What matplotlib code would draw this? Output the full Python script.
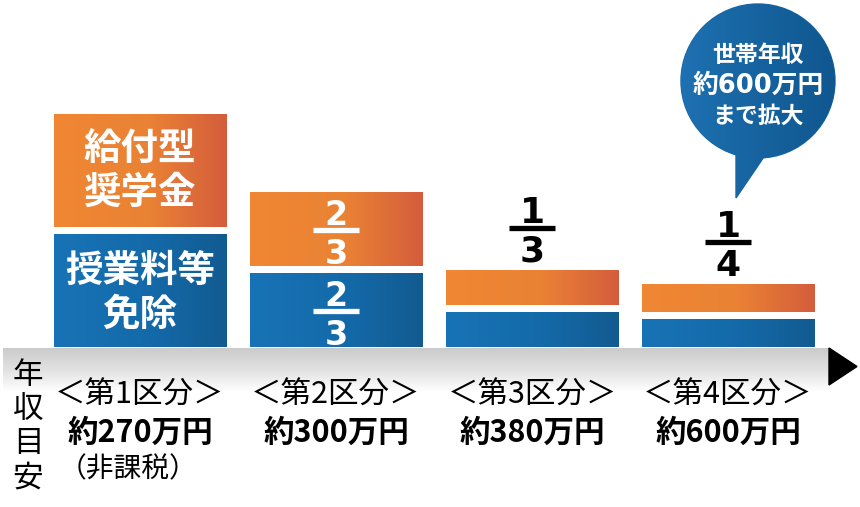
import numpy as np
import matplotlib
matplotlib.use("Agg")
import matplotlib.pyplot as plt
from matplotlib.colors import LinearSegmentedColormap
from matplotlib.patches import Circle, Polygon

plt.rcParams["font.family"] = ["Noto Sans CJK JP", "DejaVu Sans"]

# -------------------------
# data
# -------------------------
kubun = ["＜第1区分＞", "＜第2区分＞", "＜第3区分＞", "＜第4区分＞"]
nenshu = ["約270万円", "約300万円", "約380万円", "約600万円"]
biko = ["（非課税）", "", "", ""]
menjo = [113, 74, 35, 28]        # 授業料等免除 (bar height, px scale)
kyufu = [113, 74, 35, 28]        # 給付型奨学金
frac_num = ["", "2", "1", "1"]
frac_den = ["", "3", "3", "4"]
bubble_lines = ["世帯年収", "約600万円", "まで拡大"]

W, H = 860, 507
GAP = 7

fig = plt.figure(figsize=(W / 100, H / 100), dpi=100)

# background axes in pixel coordinates
ax = fig.add_axes([0, 0, 1, 1])
ax.set_xlim(0, W)
ax.set_ylim(H, 0)
ax.axis("off")

# bar axes: 1 unit = 1 px vertically, baseline at y=347 px
bx = fig.add_axes([42 / W, (H - 347) / H, 784 / W, 250 / H])
bx.axis("off")

grad = np.linspace(0, 1, 256).reshape(1, -1)
cm_orange = LinearSegmentedColormap.from_list("o", [(0, "#ef8733"), (0.55, "#ea8235"), (1, "#d45d3c")])
cm_blue = LinearSegmentedColormap.from_list("b", [(0, "#1873b6"), (0.55, "#146aa9"), (1, "#125b91")])
cm_gray = LinearSegmentedColormap.from_list("g", ["#cbcbcb", "#e2e2e2", "#ffffff"])

x = np.arange(len(kubun))
width = 0.878

def grad_bars(bars, cmap):
    for b in bars:
        x0, y0 = b.get_x(), b.get_y()
        im = bx.imshow(grad, cmap=cmap, aspect="auto", zorder=2,
                       extent=[x0, x0 + b.get_width(), y0, y0 + b.get_height()])
        im.set_clip_path(b)

blue_bars = bx.bar(x, menjo, width=width, color="#1570b2", zorder=1)
orange_bars = bx.bar(x, kyufu, width=width, bottom=np.array(menjo) + GAP, color="#ec8434", zorder=1)
grad_bars(blue_bars, cm_blue)
grad_bars(orange_bars, cm_orange)
bx.set_xlim(-0.5, len(kubun) - 0.5)
bx.set_ylim(0, 250)

# labels in bar 1
bx.text(x[0], menjo[0] + GAP + kyufu[0] / 2, "給付型\n奨学金", color="white", fontsize=27,
        fontweight="bold", ha="center", va="center", linespacing=1.15, zorder=5)
bx.text(x[0], menjo[0] / 2 - 2, "授業料等\n免除", color="white", fontsize=27,
        fontweight="bold", ha="center", va="center", linespacing=1.15, zorder=5)

def fraction(xc, yline, num, den, color, size):
    bx.plot([xc - 0.115, xc + 0.115], [yline, yline], color=color, lw=3.8,
            solid_capstyle="butt", zorder=5)
    bx.text(xc, yline + 5, num, color=color, fontsize=size, fontweight="bold",
            family="DejaVu Sans", ha="center", va="baseline", zorder=5)
    bx.text(xc, yline - 34, den, color=color, fontsize=size, fontweight="bold",
            family="DejaVu Sans", ha="center", va="baseline", zorder=5)

# bar 2: fractions inside both segments
fraction(x[1], kyufu[1] / 2 + menjo[1] + GAP - 1, frac_num[1], frac_den[1], "white", 24)
fraction(x[1], menjo[1] / 2 - 1, frac_num[1], frac_den[1], "white", 24)
# bars 3, 4: fractions above
for i in (2, 3):
    fraction(x[i], menjo[i] + GAP + kyufu[i] + 42, frac_num[i], frac_den[i], "black", 26)

# -------------------------
# axis band + arrow
# -------------------------
ax.imshow(grad.T, cmap=cm_gray, aspect="auto", extent=[3, 829, 392, 348], zorder=0)
ax.add_patch(Polygon([[829, 348], [829, 385], [857, 366.5]], closed=True, color="black", zorder=3))
ax.set_xlim(0, W)
ax.set_ylim(H, 0)

# vertical label
for k, ch in enumerate("年収目安"):
    ax.text(28, 376 + k * 34, ch, fontsize=22, ha="center", va="center", zorder=5)

# category labels
for i in range(len(kubun)):
    xc = bx.transData.transform((x[i], 0))[0]
    xc = ax.transData.inverted().transform((xc, 0))[0]
    ax.text(xc, 395, kubun[i], fontsize=22, ha="center", va="center", zorder=5)
    ax.text(xc, 433, nenshu[i], fontsize=22, fontweight="bold", ha="center", va="center", zorder=5)
    if biko[i]:
        ax.text(xc - 12, 469, biko[i], fontsize=20, ha="center", va="center", zorder=5)

# -------------------------
# speech bubble
# -------------------------
circ = Circle((758, 81), 77, color="#1767a6", zorder=3)
tail = Polygon([[736, 145], [772, 145], [736, 198]], closed=True, color="#1767a6", zorder=3)
ax.add_patch(circ)
ax.add_patch(tail)
cm_bub = LinearSegmentedColormap.from_list("bb", ["#1e71b2", "#16639f", "#105790"])
for p in (circ, tail):
    im = ax.imshow(grad, cmap=cm_bub, aspect="auto", extent=[681, 835, 200, 4], zorder=4)
    im.set_clip_path(p)
ax.set_xlim(0, W)
ax.set_ylim(H, 0)

for k, (line, fs) in enumerate(zip(bubble_lines, [16.5, 18.5, 16.5])):
    ax.text(758, 56 + k * 30, line, color="white", fontsize=fs, fontweight="bold",
            family=["DejaVu Sans", "Noto Sans CJK JP"],
            ha="center", va="center", zorder=6)

fig.savefig("out.png", dpi=100)
